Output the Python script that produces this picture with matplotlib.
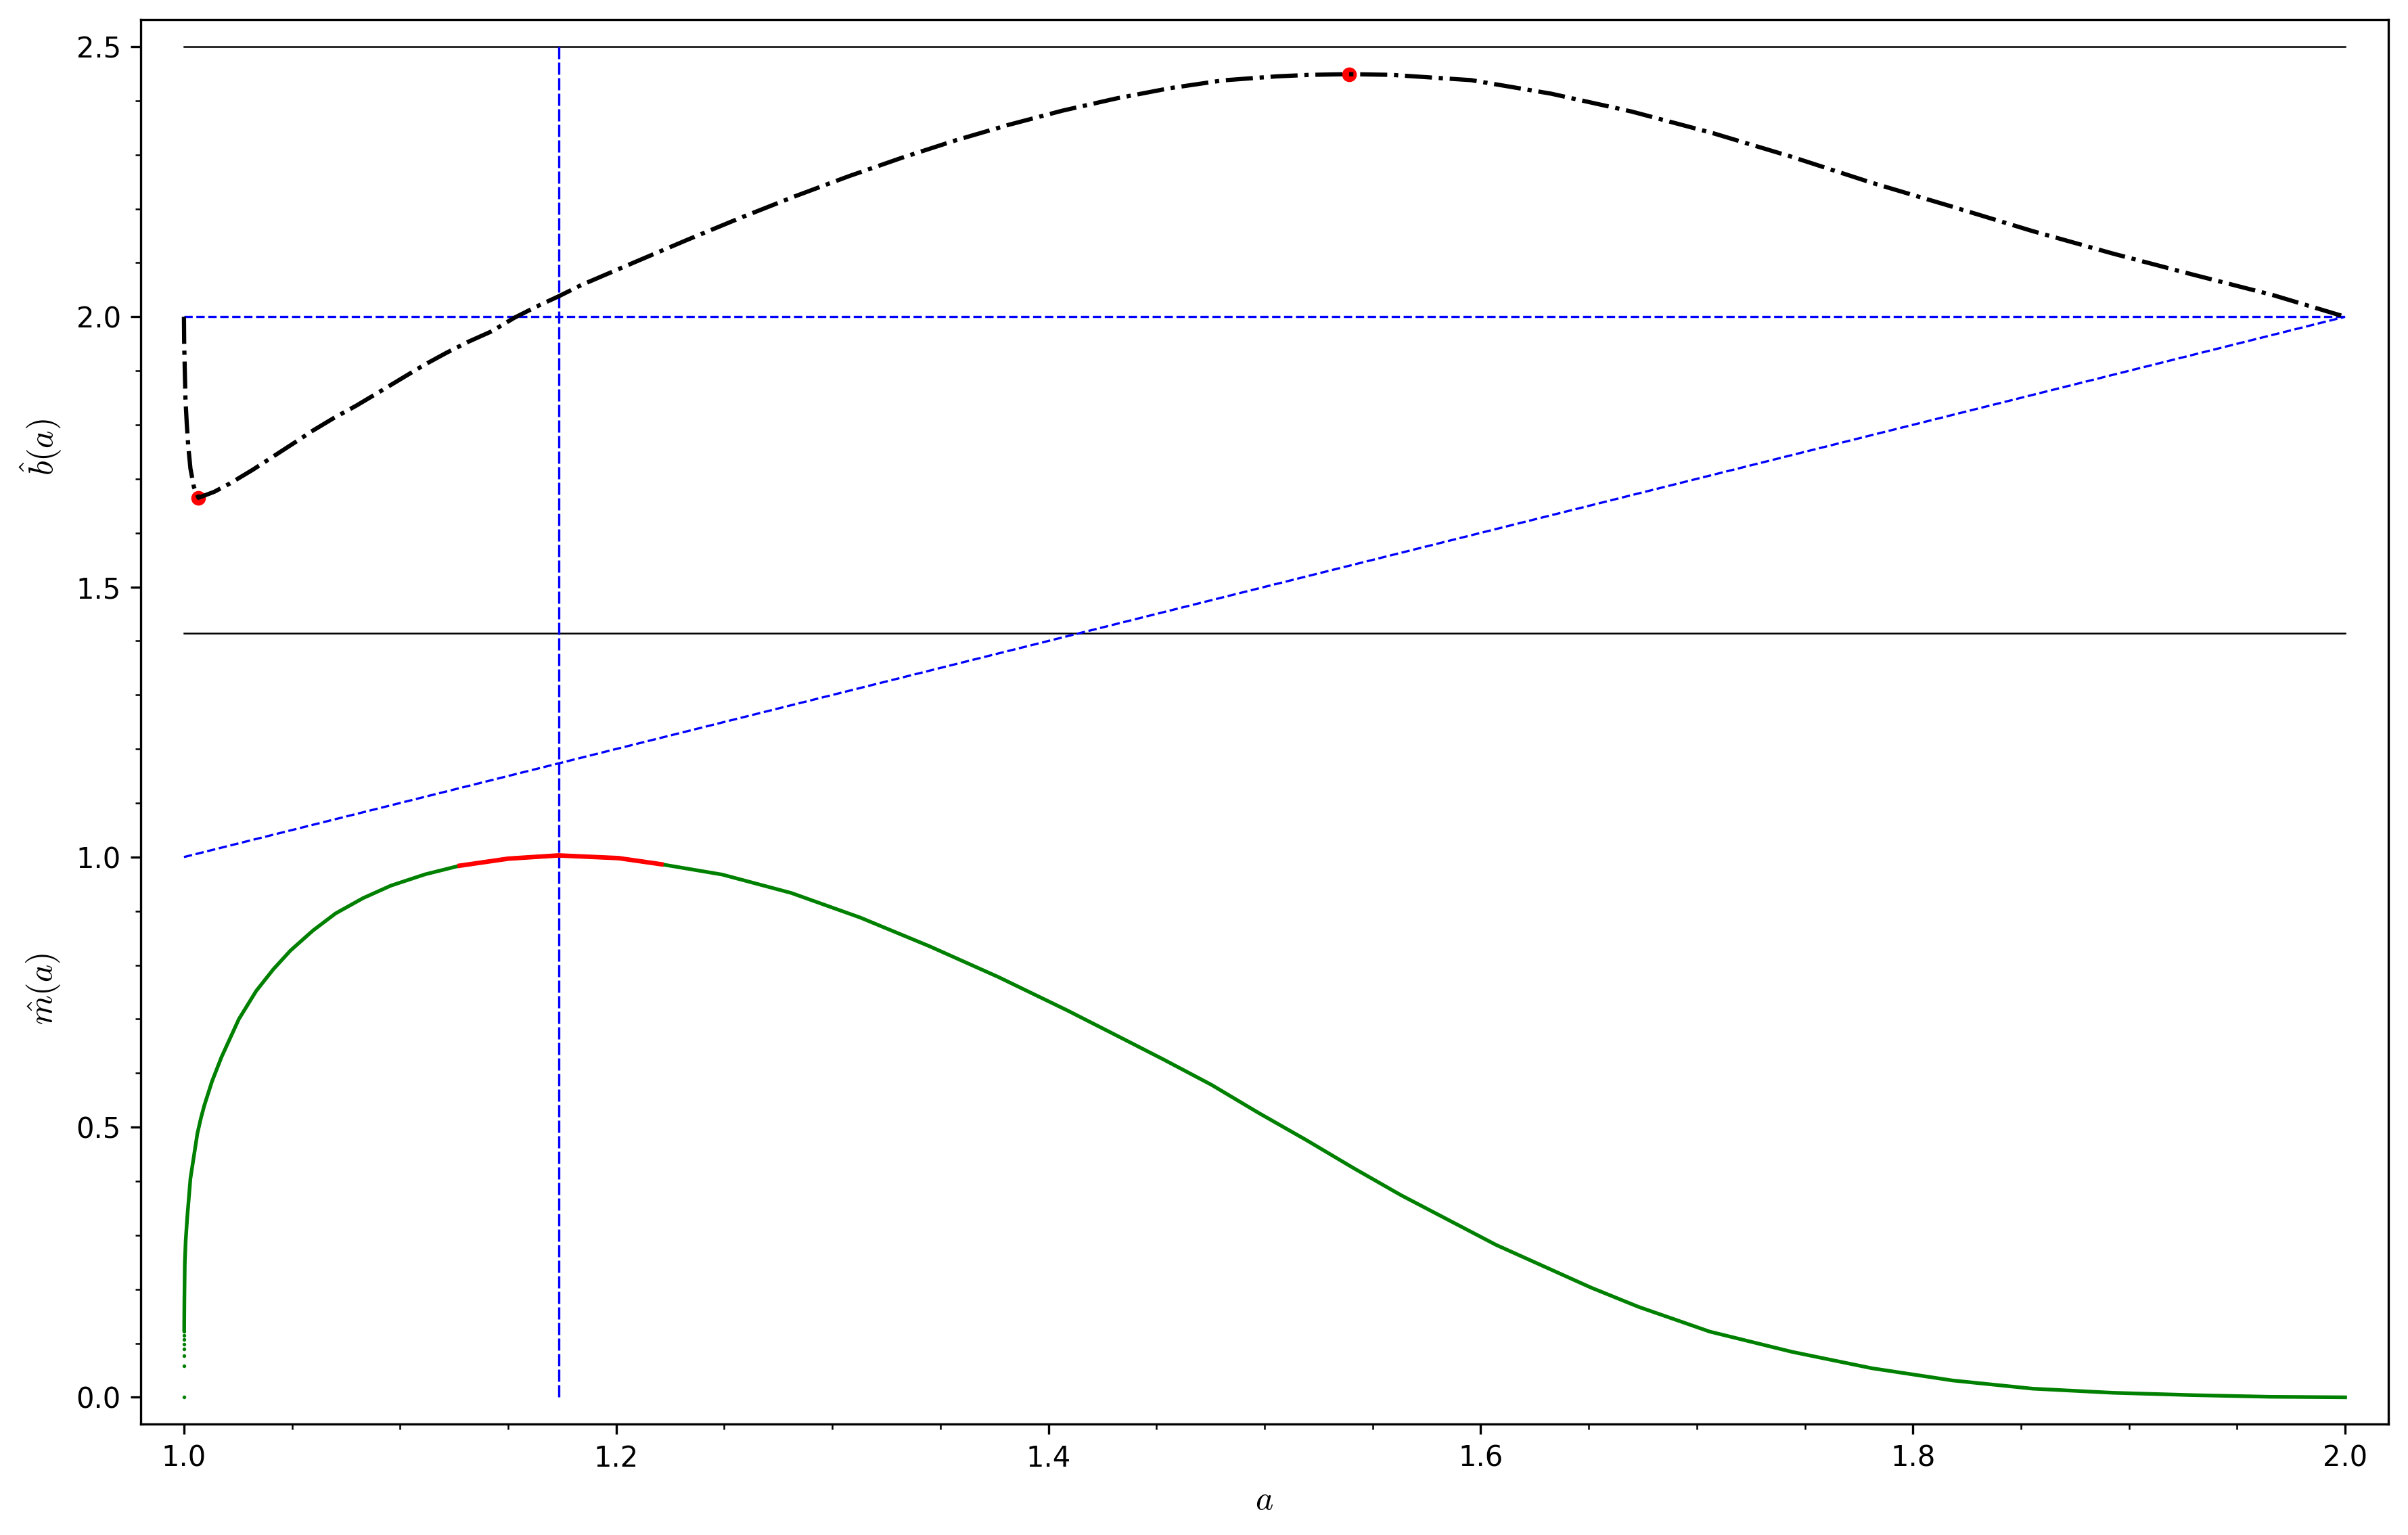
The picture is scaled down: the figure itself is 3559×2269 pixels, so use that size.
import matplotlib
matplotlib.use("Agg")
import matplotlib.pyplot as plt
import matplotlib.transforms as mtransforms

plt.rcParams['mathtext.fontset'] = 'cm'

# b_hat(a) curve
b_a = [1.0000, 1.0001, 1.0004, 1.0007, 1.0013, 1.0020, 1.0030, 1.0046, 1.0067,
       1.0140, 1.0213, 1.0317, 1.0422, 1.0526, 1.0589, 1.0693, 1.0797, 1.0902,
       1.1006, 1.1110, 1.1215, 1.1319, 1.1424, 1.1528, 1.1632, 1.1737, 1.1838,
       1.2086, 1.2333, 1.2581, 1.2828, 1.3076, 1.3324, 1.3571, 1.3819, 1.4066,
       1.4314, 1.4562, 1.4809, 1.5057, 1.5213, 1.5390, 1.5585, 1.5955, 1.6325,
       1.6697, 1.7069, 1.7440, 1.7810, 1.8180, 1.8550, 1.8925, 1.9296, 1.9667,
       2.0000]
b_val = [2.000, 1.952, 1.898, 1.848, 1.802, 1.760, 1.719, 1.685, 1.665,
         1.676, 1.6915, 1.7165, 1.7437, 1.7707, 1.7875, 1.8125, 1.8354, 1.8604,
         1.8855, 1.9105, 1.9334, 1.9543, 1.9731, 1.998, 2.019, 2.0385, 2.0586,
         2.1011, 2.1431, 2.1841, 2.2231, 2.2601, 2.2946, 2.3266, 2.3556, 2.3816,
         2.4041, 2.4231, 2.4376, 2.4450, 2.4478, 2.4490, 2.4478, 2.4380, 2.4130,
         2.3800, 2.3405, 2.2960, 2.2480, 2.2040, 2.1590, 2.1170, 2.0780, 2.0400,
         2.0000]

# extreme points of b_hat
ext_a = [1.0067, 1.5390]
ext_b = [1.665, 2.449]

# m_hat(a) curve
m_a = [1.0001, 1.0002, 1.0004, 1.0008, 1.0015, 1.0030, 1.0062, 1.0078, 1.0094,
       1.0130, 1.0174, 1.0254, 1.0334, 1.0413, 1.0493, 1.0597, 1.0701, 1.0829,
       1.0957, 1.1116, 1.1276, 1.1500, 1.1733, 1.2011, 1.2209, 1.2490, 1.2810,
       1.3129, 1.3449, 1.3768, 1.4088, 1.4314, 1.4534, 1.4754, 1.4973, 1.5193,
       1.5413, 1.5632, 1.5852, 1.6071, 1.6291, 1.6511, 1.6730, 1.7060, 1.7440,
       1.7810, 1.8183, 1.8554, 1.8925, 1.9296, 1.9650, 2.0000]
m_val = [0.125, 0.180, 0.249, 0.290, 0.332, 0.405, 0.488, 0.516, 0.540,
         0.585, 0.630, 0.700, 0.752, 0.792, 0.827, 0.864, 0.8955, 0.924,
         0.947, 0.968, 0.984, 0.997, 1.003, 0.998, 0.9866, 0.9676, 0.9335,
         0.888, 0.835, 0.778, 0.716, 0.670, 0.625, 0.5785, 0.5263, 0.4762,
         0.424, 0.374, 0.328, 0.2822, 0.2426, 0.203, 0.1675, 0.1216, 0.0842,
         0.0538, 0.0312, 0.016, 0.0084, 0.004, 0.001, 0.000]

# sparse samples of m_hat right at a = 1
dot_a = [1.0, 1.0, 1.0, 1.0, 1.0, 1.0, 1.0, 1.0]
dot_m = [0.0, 0.058, 0.0766, 0.089, 0.0987, 0.107, 0.1146, 0.122]

# part of m_hat drawn in red
red_a = [1.1276, 1.1500, 1.1733, 1.2011, 1.2209]
red_m = [0.984, 0.997, 1.003, 0.998, 0.9866]

a_star = 1.1735
sqrt2 = 1.4142

W, H = 3559, 2269
fig = plt.figure(figsize=(W / 300, H / 300), dpi=300)
ax = fig.add_axes([208 / W, (H - 2105.4) / H, 3322 / W, 2076.4 / H])

ax.plot([1, 2], [2.5, 2.5], color='black', lw=0.6)
ax.plot([1, 2], [sqrt2, sqrt2], color='black', lw=0.6)
ax.plot([1, 2], [2, 2], color='blue', lw=0.8, ls='--')
ax.plot([1, 2], [1, 2], color='blue', lw=0.8, ls='--')
ax.plot([a_star, a_star], [0, 2.5], color='blue', lw=0.8, ls=(0, (5.4, 1.5)))

ax.plot(ext_a, ext_b, 'o', color='red', ms=4.2, zorder=2)
ax.plot(b_a, b_val, color='black', lw=1.5, ls='-.', zorder=3)

ax.plot(m_a, m_val, color='green', lw=1.3, solid_joinstyle='round')
ax.plot(dot_a, dot_m, 'o', color='green', ms=1.3, mew=0)
ax.plot(red_a, red_m, color='red', lw=1.6, solid_joinstyle='round')

ax.set_xlim(0.98, 2.02)
ax.set_ylim(-0.05, 2.55)
ax.minorticks_on()
ax.set_xticks([1.0, 1.2, 1.4, 1.6, 1.8, 2.0])
ax.set_yticks([0.0, 0.5, 1.0, 1.5, 2.0, 2.5])
ax.set_xlabel(r'$a$', fontsize=12)

trans = mtransforms.blended_transform_factory(ax.transAxes, ax.transData)
ax.text(-0.0442, 1.758, r'$\hat{b}(a)$', transform=trans, rotation=90,
        ha='center', va='center', fontsize=12)
ax.text(-0.0432, 0.756, r'$\hat{m}(a)$', transform=trans, rotation=90,
        ha='center', va='center', fontsize=12)

fig.savefig('out.png', dpi=300)
